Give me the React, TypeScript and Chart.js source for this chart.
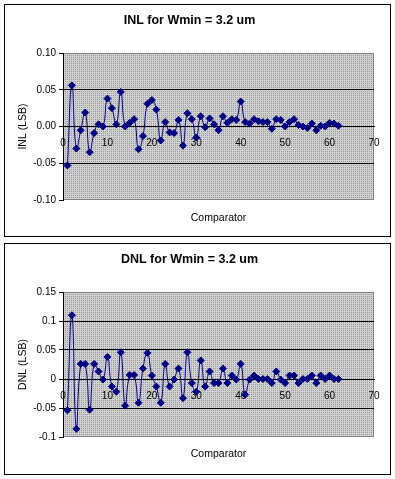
import React, { useEffect, useRef } from "react";
import { Chart, registerables } from "chart.js";

Chart.register(...registerables);

const comparators = [
  1, 2, 3, 4, 5, 6, 7, 8, 9, 10, 11, 12, 13, 14, 15, 16, 17, 18, 19, 20, 21,
  22, 23, 24, 25, 26, 27, 28, 29, 30, 31, 32, 33, 34, 35, 36, 37, 38, 39, 40,
  41, 42, 43, 44, 45, 46, 47, 48, 49, 50, 51, 52, 53, 54, 55, 56, 57, 58, 59,
  60, 61, 62,
];

const inlValues = [
  -0.053, 0.056, -0.03, -0.005, 0.019, -0.035, -0.009, 0.003, 0.0, 0.038,
  0.025, 0.003, 0.047, 0.0, 0.005, 0.01, -0.031, -0.013, 0.031, 0.036,
  0.023, -0.019, 0.006, -0.008, -0.009, 0.009, -0.026, 0.018, 0.01, -0.015,
  0.014, -0.001, 0.011, 0.003, -0.005, 0.014, 0.005, 0.01, 0.009, 0.034,
  0.006, 0.004, 0.01, 0.007, 0.006, 0.006, -0.003, 0.01, 0.009, 0.0,
  0.006, 0.01, 0.002, 0.0, -0.002, 0.004, -0.005, 0.001, 0.0, 0.005,
  0.004, 0.001,
];

const dnlValues = [
  -0.054, 0.11, -0.086, 0.026, 0.026, -0.053, 0.026, 0.013, -0.001, 0.038,
  -0.013, -0.022, 0.046, -0.046, 0.007, 0.007, -0.041, 0.018, 0.045, 0.006,
  -0.013, -0.041, 0.026, -0.013, -0.001, 0.018, -0.033, 0.046, -0.007, -0.022,
  0.032, -0.013, 0.013, -0.007, -0.007, 0.018, -0.007, 0.006, -0.001, 0.026,
  -0.027, -0.001, 0.006, 0.0, 0.0, 0.0, -0.007, 0.013, -0.001, -0.007,
  0.006, 0.006, -0.007, 0.0, 0.0, 0.006, -0.007, 0.006, 0.0, 0.006,
  0.0, 0.0,
];

const xTickValues = [0, 10, 20, 30, 40, 50, 60, 70];
const xTickLabels = ["0", "10", "20", "30", "40", "50", "60", "70"];

const inlTickValues = [-0.1, -0.05, 0, 0.05, 0.1];
const inlTickLabels = ["-0.10", "-0.05", "0.00", "0.05", "0.10"];

const dnlTickValues = [-0.1, -0.05, 0, 0.05, 0.1, 0.15];
const dnlTickLabels = ["-0.1", "-0.05", "0", "0.05", "0.1", "0.15"];

const FONT = "'Liberation Sans', Arial, sans-serif";
const NAVY = "#000080";

const plotBg = {
  id: "plotBg",
  beforeDraw(chart: any) {
    const { ctx, chartArea: a } = chart;
    const pc = document.createElement("canvas");
    pc.width = 2;
    pc.height = 2;
    const p = pc.getContext("2d")!;
    p.fillStyle = "#d0d0d0";
    p.fillRect(0, 0, 2, 2);
    p.fillStyle = "#9a9a9a";
    p.fillRect(0, 0, 1, 1);
    ctx.save();
    ctx.fillStyle = ctx.createPattern(pc, "repeat");
    ctx.fillRect(a.left, a.top, a.right - a.left, a.bottom - a.top);
    ctx.strokeStyle = "#808080";
    ctx.lineWidth = 1;
    ctx.strokeRect(a.left + 0.5, a.top + 0.5, a.right - a.left - 1, a.bottom - a.top - 1);
    ctx.restore();
  },
};

type Props = {
  title: string;
  yTitle: string;
  values: number[];
  yTicks: number[];
  yLabels: string[];
  width: number;
  height: number;
  bottomSpace: number;
  bottomPad: number;
};

function LineChart(props: Props) {
  const ref = useRef<HTMLCanvasElement | null>(null);
  useEffect(() => {
    const { title, yTitle, values, yTicks, yLabels, bottomSpace, bottomPad } = props;
    const data = comparators.map((c, i) => ({ x: c, y: values[i] }));
    const yMin = yTicks[0];
    const yMax = yTicks[yTicks.length - 1];
    const chart = new Chart(ref.current!, {
      type: "line",
      data: {
        datasets: [
          {
            data,
            borderColor: NAVY,
            backgroundColor: NAVY,
            borderWidth: 1,
            pointStyle: "rectRot",
            pointRadius: 3.5,
            pointBorderWidth: 1,
            pointBorderColor: NAVY,
            pointBackgroundColor: NAVY,
            tension: 0.5,
            fill: false,
          },
        ],
      },
      options: {
        animation: false,
        responsive: false,
        devicePixelRatio: 1,
        layout: { padding: { left: 0, right: 16, top: 0, bottom: 0 } },
        plugins: {
          legend: { display: false },
          tooltip: { enabled: false },
          title: {
            display: true,
            text: title,
            color: "#000",
            font: { family: FONT, size: 12.5, weight: "bold" },
            padding: { top: 8, bottom: 25 },
          },
        },
        scales: {
          x: {
            type: "linear",
            min: 0,
            max: 70,
            position: { y: 0 } as any,
            grid: { display: false, drawTicks: true, tickLength: 8 },
            border: { display: true, color: "#000", width: 1 },
            afterBuildTicks: (s: any) => {
              s.ticks = xTickValues.map((v) => ({ value: v }));
            },
            ticks: {
              autoSkip: false,
              maxRotation: 0,
              padding: 3,
              color: "#000",
              font: { family: FONT, size: 10 },
              callback: (_v: any, i: number) => xTickLabels[i],
            },
          },
          x2: {
            type: "linear",
            min: 0,
            max: 70,
            position: "bottom",
            grid: { display: false, drawTicks: false },
            border: { display: false },
            ticks: { display: false },
            afterFit: (s: any) => {
              s.height = bottomSpace;
            },
            title: {
              display: true,
              text: "Comparator",
              color: "#000",
              font: { family: FONT, size: 10.5 },
              padding: { top: 4, bottom: bottomPad },
            },
          },
          y: {
            type: "linear",
            min: yMin,
            max: yMax,
            afterFit: (s: any) => {
              s.width = 58;
            },
            afterBuildTicks: (s: any) => {
              s.ticks = yTicks.map((v) => ({ value: v }));
            },
            grid: {
              color: (ctx: any) =>
                ctx.index === 0 || ctx.index === yTicks.length - 1
                  ? "rgba(0,0,0,0)"
                  : "#000",
              tickColor: "#000",
              lineWidth: 1,
              drawTicks: true,
              tickLength: 4,
            },
            border: { display: true, color: "#000", width: 1 },
            ticks: {
              autoSkip: false,
              padding: 3,
              color: "#000",
              font: { family: FONT, size: 10 },
              callback: (_v: any, i: number) => yLabels[i],
            },
            title: {
              display: true,
              text: yTitle,
              color: "#000",
              font: { family: FONT, size: 10.5 },
              padding: { top: 11.4, bottom: 4 },
            },
          },
        },
      },
      plugins: [plotBg],
    } as any);
    return () => chart.destroy();
  }, []);
  return (
    <canvas
      ref={ref}
      width={props.width}
      height={props.height}
      style={{ display: "block", width: props.width, height: props.height }}
    />
  );
}

export default function App() {
  return (
    <div
      style={{
        position: "absolute",
        left: 0,
        top: 0,
        width: 395,
        height: 479,
        background: "#fff",
      }}
    >
      <div
        style={{
          position: "absolute",
          left: 4,
          top: 4,
          border: "1px solid #000",
          width: 385,
          height: 231,
        }}
      >
        <LineChart
          title="INL for Wmin = 3.2 um"
          yTitle="INL (LSB)"
          values={inlValues}
          yTicks={inlTickValues}
          yLabels={inlTickLabels}
          width={385}
          height={231}
          bottomSpace={36}
          bottomPad={11.7}
        />
      </div>
      <div
        style={{
          position: "absolute",
          left: 4,
          top: 243,
          border: "1px solid #000",
          width: 385,
          height: 230,
        }}
      >
        <LineChart
          title="DNL for Wmin = 3.2 um"
          yTitle="DNL (LSB)"
          values={dnlValues}
          yTicks={dnlTickValues}
          yLabels={dnlTickLabels}
          width={385}
          height={230}
          bottomSpace={37}
          bottomPad={13.7}
        />
      </div>
    </div>
  );
}
